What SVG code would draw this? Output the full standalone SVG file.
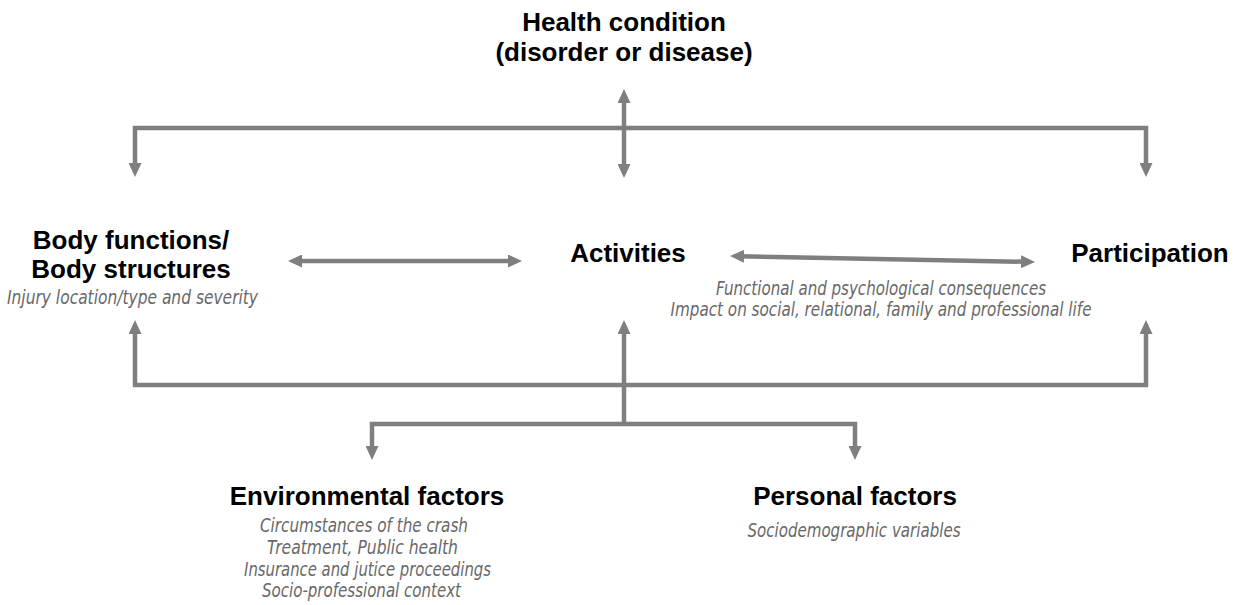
<svg xmlns="http://www.w3.org/2000/svg" width="1242" height="605" viewBox="0 0 1242 605">
  <style>
    .title { font-family: "Liberation Sans", Arial, sans-serif; font-weight: bold; font-size: 26px; fill: #000; text-anchor: middle; }
    .sub { font-family: "DejaVu Sans Condensed", "DejaVu Sans", sans-serif; font-style: italic; font-size: 19px; fill: #686868; text-anchor: middle; }
    .conn { fill: none; stroke: #7f7f7f; stroke-width: 4.5; stroke-linejoin: miter; stroke-linecap: butt; }
  </style>
  <defs>
    <marker id="arrow" markerUnits="userSpaceOnUse" viewBox="0 0 14 13" markerWidth="14" markerHeight="13" refX="5" refY="6.5" orient="auto-start-reverse">
      <path d="M0,0 L14,6.5 L0,13 z" fill="#7f7f7f"/>
    </marker>
  </defs>
  <rect width="1242" height="605" fill="#ffffff"/>

  <g id="connectors">
    <path class="conn" d="M135,168 L135,128 L1146,128 L1146,168" marker-start="url(#arrow)" marker-end="url(#arrow)"/>
    <path class="conn" d="M624,98 L624,169" marker-start="url(#arrow)" marker-end="url(#arrow)"/>
    <path class="conn" d="M297,261 L513,261" marker-start="url(#arrow)" marker-end="url(#arrow)"/>
    <path class="conn" d="M739,256.2 L1026,261.8" marker-start="url(#arrow)" marker-end="url(#arrow)"/>
    <path class="conn" d="M135,329 L135,385 L1146,385 L1146,329" marker-start="url(#arrow)" marker-end="url(#arrow)"/>
    <path class="conn" d="M624,424 L624,329" marker-end="url(#arrow)"/>
    <path class="conn" d="M372,451 L372,424 L855,424 L855,451" marker-start="url(#arrow)" marker-end="url(#arrow)"/>
  </g>

  <g id="health">
    <text class="title" x="624" y="31">Health condition</text>
    <text class="title" x="624" y="61">(disorder or disease)</text>
  </g>

  <g id="body">
    <text class="title" x="131" y="249">Body functions/</text>
    <text class="title" x="131" y="278">Body structures</text>
    <text class="sub" x="132.5" y="304" textLength="251" lengthAdjust="spacingAndGlyphs">Injury location/type and severity</text>
  </g>

  <g id="activities">
    <text class="title" x="628" y="262">Activities</text>
  </g>

  <g id="participation">
    <text class="title" x="1150" y="262">Participation</text>
    <text class="sub" x="881" y="295" textLength="330" lengthAdjust="spacingAndGlyphs">Functional and psychological consequences</text>
    <text class="sub" x="881" y="316" textLength="421" lengthAdjust="spacingAndGlyphs">Impact on social, relational, family and professional life</text>
  </g>

  <g id="environmental">
    <text class="title" x="367" y="505">Environmental factors</text>
    <text class="sub" x="364" y="532" textLength="208" lengthAdjust="spacingAndGlyphs">Circumstances of the crash</text>
    <text class="sub" x="362.5" y="554" textLength="191" lengthAdjust="spacingAndGlyphs">Treatment, Public health</text>
    <text class="sub" x="367.5" y="575.5" textLength="247" lengthAdjust="spacingAndGlyphs">Insurance and jutice proceedings</text>
    <text class="sub" x="361.5" y="597" textLength="199" lengthAdjust="spacingAndGlyphs">Socio-professional context</text>
  </g>

  <g id="personal">
    <text class="title" x="855" y="505">Personal factors</text>
    <text class="sub" x="854" y="537" textLength="213" lengthAdjust="spacingAndGlyphs">Sociodemographic variables</text>
  </g>
</svg>
